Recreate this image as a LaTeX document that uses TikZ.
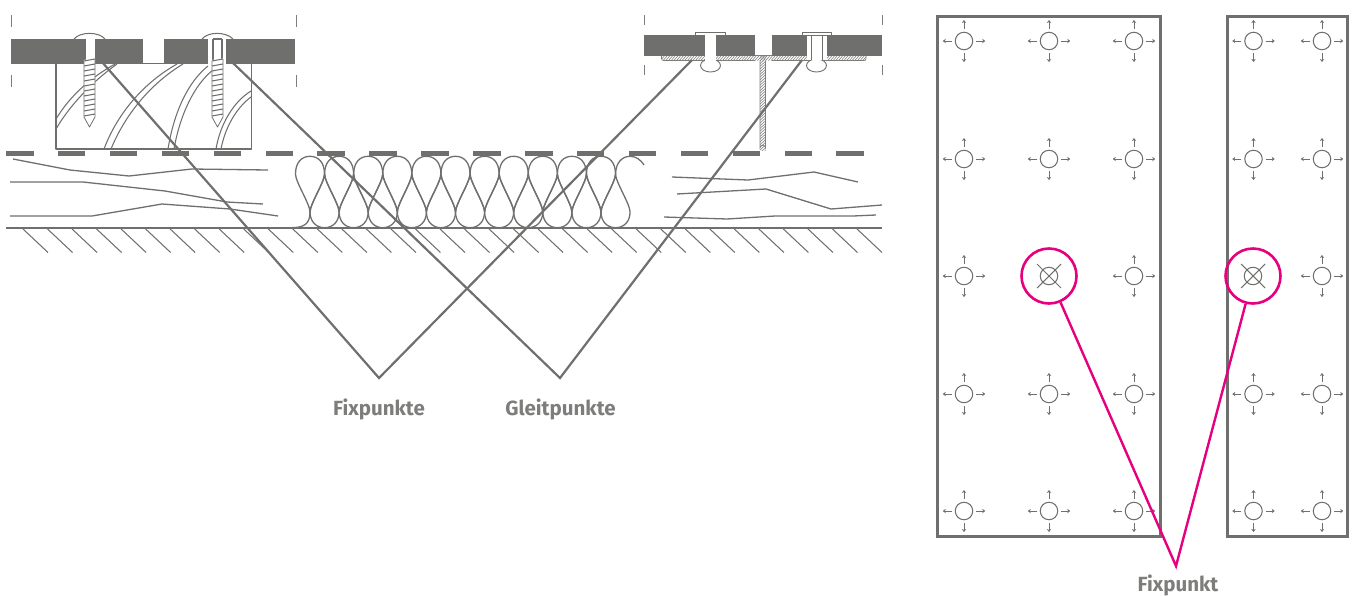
\documentclass[tikz,border=0pt]{standalone}
\usepackage{fontspec}
\setmainfont{Fira Sans}
\usetikzlibrary{arrows.meta,calc}
\definecolor{dgray}{HTML}{6F6F6E}
\definecolor{lgray}{HTML}{7D7D7C}
\definecolor{mag}{HTML}{E6007E}
\tikzset{
  fine/.style={draw=dgray,line width=1.05pt,line join=round},
  plate/.style={fill=dgray,draw=none},
  dashbar/.style={fill=dgray,draw=none},
  fibre/.style={draw=dgray,line width=1.3pt,line join=round},
  loopline/.style={draw=dgray,line width=1.3pt},
  leader/.style={draw=dgray,line width=2.2pt,line join=miter},
  pinkleader/.style={draw=mag,line width=2.4pt,line join=miter},
  panel/.style={draw=dgray,line width=3pt,fill=none},
  caption/.style={text=lgray,font=\fontsize{20.5}{22}\selectfont\bfseries,inner sep=0pt,anchor=center},
  hole/.style={circle,draw=dgray,line width=1.05pt,minimum size=17.5pt,inner sep=0pt},
  ring/.style={circle,draw=mag,line width=2.6pt,minimum size=55pt,inner sep=0pt},
  tinyarrow/.style={draw=dgray,line width=0.95pt,-{Stealth[length=3pt,width=4.4pt]}},
}
\newcommand{\slidepoint}[3]{%
  \node[hole] (#1) at (#2,#3) {};
  \draw[tinyarrow] ($(#1)+(12.2,0)$) -- ++(9,0);
  \draw[tinyarrow] ($(#1)+(-12.2,0)$) -- ++(-9,0);
  \draw[tinyarrow] ($(#1)+(0,-12.4)$) -- ++(0,-8.6);
  \draw[tinyarrow] ($(#1)+(0,12.4)$) -- ++(0,8.6);
}
\newcommand{\fixpoint}[3]{%
  \node[hole] (#1) at (#2,#3) {};
  \draw[fine] ($(#1)+(-12,-12)$) -- ($(#1)+(12,12)$);
  \draw[fine] ($(#1)+(-12,12)$) -- ($(#1)+(12,-12)$);
  \node[ring] (#1r) at (#2,#3) {};
}
\newcommand{\screw}[1]{%
  \fill[white] (#1-5.7,60) -- (#1+5.7,58.5) -- (#1+5.7,117) -- (#1,127) -- (#1-5.7,117) -- cycle;
  \draw[fine,line width=0.8pt] (#1-5.5,61) -- (#1-5.5,117) -- (#1,127) -- (#1+5.5,117) -- (#1+5.5,59);
  \foreach \yy in {61,66,...,116}{\draw[fine] (#1-5.5,\yy) -- (#1+5.5,\yy-2);}
}
\begin{document}
\begin{tikzpicture}[x=1pt,y=-1pt]
\useasboundingbox (0,0) rectangle (1352,595);
% ticks
\foreach \xx in {11.5,296}{
  \draw[draw=lgray,line width=1pt] (\xx,15) -- (\xx,27);
  \draw[draw=lgray,line width=1pt] (\xx,75) -- (\xx,87);
}
\foreach \xx in {644,882.5}{
  \draw[draw=lgray,line width=1pt] (\xx,15) -- (\xx,25);
  \draw[draw=lgray,line width=1pt] (\xx,65) -- (\xx,75);
}
% wood block
\draw[fine] (56,63.5) rectangle (251.5,149);
\draw[fine] (56,119) .. controls (70,96) and (90,78) .. (115,64);
\draw[fine] (56,129) .. controls (70,105) and (92,82) .. (117,64);
\draw[fine] (104,149) .. controls (118,112) and (145,82) .. (177,64);
\draw[fine] (111,149) .. controls (125,115) and (150,84) .. (183,64);
\draw[fine] (168,149) .. controls (174,112) and (188,82) .. (208,66);
\draw[fine] (174,149) .. controls (180,115) and (194,85) .. (213,70);
\draw[fine] (216,149) .. controls (220,125) and (233,102) .. (251,91);
\draw[fine] (221,149) .. controls (225,128) and (236,108) .. (251,97);
% plates left
\fill[plate] (11,39) rectangle (143,64);
\fill[plate] (164,39) rectangle (295,64);
% screw 1
\draw[fine] (74,39) .. controls (80,31.5) and (99,31.5) .. (105,39);
\fill[white] (85.5,39) rectangle (94.5,61);
\screw{89.5}
% screw 2
\draw[fine] (202,39) .. controls (208,31.5) and (226,31.5) .. (233,39);
\fill[white] (208,39) rectangle (226,64);
\draw[fine] (213,39) -- (213,60);
\draw[fine] (222,39) -- (222,60);
\draw[fine] (213,39) -- (222,39);
\screw{217.5}
% dashes
\foreach \k in {0,...,16}{
  \fill[dashbar] ({6+51.9*\k},151) rectangle ++(27.5,5);
}
% fibres left
\draw[fibre] (13,159) -- (70,170) -- (129,176) -- (192,169) -- (268,170);
\draw[fibre] (10,182) -- (83,182) -- (165,191) -- (227,202) -- (263,204);
\draw[fibre] (10,216) -- (92,216) -- (162,204) -- (230,209) -- (278,216);
% fibres right
\draw[fibre] (672,177) -- (748,180) -- (814,172) -- (858,182);
\draw[fibre] (677,194) -- (766,189) -- (831,209) -- (882,205);
\draw[fibre] (664,217) -- (727,219) -- (775,216) -- (853,216) -- (876,215);
% insulation
\foreach \k in {0,...,10}{
  \pgfmathsetmacro{\cx}{310+29.1*\k}
  \pgfmathsetmacro{\bx}{\cx+14.55}
  % upper lobe
  \draw[loopline] (\cx,212) .. controls (\cx,204) and (\cx-14.5,182) .. (\cx-14.5,174)
     .. controls (\cx-14.5,162) and (\cx-8,156.3) .. (\cx,156.3)
     .. controls (\cx+8,156.3) and (\cx+14.5,162) .. (\cx+14.5,174)
     .. controls (\cx+14.5,182) and (\cx,204) .. (\cx,212);
  % lower lobe
  \draw[loopline] (\bx,174) .. controls (\bx,182) and (\bx-14.5,204) .. (\bx-14.5,212)
     .. controls (\bx-14.5,222) and (\bx-8,227.7) .. (\bx,227.7)
     .. controls (\bx+8,227.7) and (\bx+14.5,222) .. (\bx+14.5,212)
     .. controls (\bx+14.5,204) and (\bx,182) .. (\bx,174);
}
\draw[loopline] (291,227.7) .. controls (304,227.7) and (310,224) .. (310,212);
\draw[loopline] (615.6,174) .. controls (615.6,163) and (622,156.3) .. (630,156.3) .. controls (636,156.3) and (641,160) .. (644,165);
% ground
\draw[draw=dgray,line width=1.3pt] (6,228) -- (882,228);
\foreach \k in {0,...,34}{
  \draw[draw=dgray,line width=1.05pt] ({23+24.53*\k},229) -- ++(25,23.5);
}
% stem and flange
\fill[white,rounded corners=2pt] (661.5,56) rectangle (866,60.5);
\fill[white] (755,55) rectangle (772,60);
\fill[white] (760,60) rectangle (765.5,150);
\begin{scope}
  \clip (661.5,56) rectangle (866,60.5) (755,55) rectangle (772,60);
  \foreach \k in {0,...,80}{
    \draw[draw=lgray,line width=0.55pt] ({660+2.7*\k},61) -- ++(6,-7);
  }
\end{scope}
\begin{scope}
  \clip (760,55) rectangle (765.5,150);
  \foreach \k in {0,...,36}{
    \draw[draw=lgray,line width=0.55pt] (758,{60+2.7*\k}) -- ++(10,-9);
  }
\end{scope}
\draw[draw=lgray,line width=0.6pt] (760,60.5) -- (760,148) arc[start angle=180,end angle=360,radius=2.75] -- (765.5,60.5);
\draw[draw=lgray,line width=0.6pt] (755,55) -- (772,55);
\draw[draw=lgray,line width=0.6pt,rounded corners=2pt] (755,60.5) -- (661.5,60.5) -- (661.5,56);
\draw[draw=lgray,line width=0.6pt,rounded corners=2pt] (772,60.5) -- (866,60.5) -- (866,56);
% plates right
\fill[plate] (644,35) rectangle (755,56);
\fill[plate] (772,35) rectangle (882,56);
% rivet 1
\filldraw[fill=white,draw=dgray,line width=0.9pt] (710.5,65.5) ellipse[x radius=10,y radius=6.5];
\fill[white] (705,33) rectangle (716,66);
\draw[fine,line width=0.8pt] (695,35) rectangle (725,32);
\fill[white] (705,33) rectangle (716,60);
% rivet 2
\filldraw[fill=white,draw=dgray,line width=0.9pt] (816.5,65.5) ellipse[x radius=10,y radius=6.5];
\fill[white] (807,35) rectangle (827,60);
\draw[fine,line width=0.8pt] (802,35) rectangle (831,32);
\draw[fine,line width=0.8pt] (811,35) -- (811,60);
\draw[fine,line width=0.8pt] (822,35) -- (822,60);
% leaders
\coordinate (fixapex) at (379,378);
\coordinate (gleitapex) at (560,378);
\coordinate (fixl) at (102,62);
\coordinate (fixr) at (692,60);
\coordinate (gleitl) at (233,63);
\coordinate (gleitr) at (802,60);
\draw[leader] (fixl) -- (fixapex) -- (fixr);
\draw[leader] (gleitl) -- (gleitapex) -- (gleitr);
\node[caption] (fixlabel) at (379,409.5) {Fixpunkte};
\node[caption] (gleitlabel) at (560.5,409.5) {Gleitpunkte};
% panels
\draw[panel] (937.5,16) rectangle (1160,536);
\draw[panel] (1227,16) rectangle (1347,536);
\foreach \yy [count=\r] in {41,159,276,394,511}{
  \foreach \xx [count=\c] in {964,1049,1134}{
    \ifnum\r=3 \ifnum\c=2 \else \slidepoint{a\r\c}{\xx}{\yy}\fi
    \else \slidepoint{a\r\c}{\xx}{\yy}\fi
  }
  \ifnum\r=3 \else \slidepoint{b\r1}{1253.5}{\yy}\fi
  \slidepoint{b\r2}{1322}{\yy}
}
\fixpoint{fa}{1049}{276}
\fixpoint{fb}{1253}{276}
\coordinate (pinkapex) at (1176,566);
\draw[pinkleader] (fbr) -- (pinkapex) -- (far);
\node[caption] (fixpunkt) at (1178,585.5) {Fixpunkt};
\end{tikzpicture}
\end{document}
